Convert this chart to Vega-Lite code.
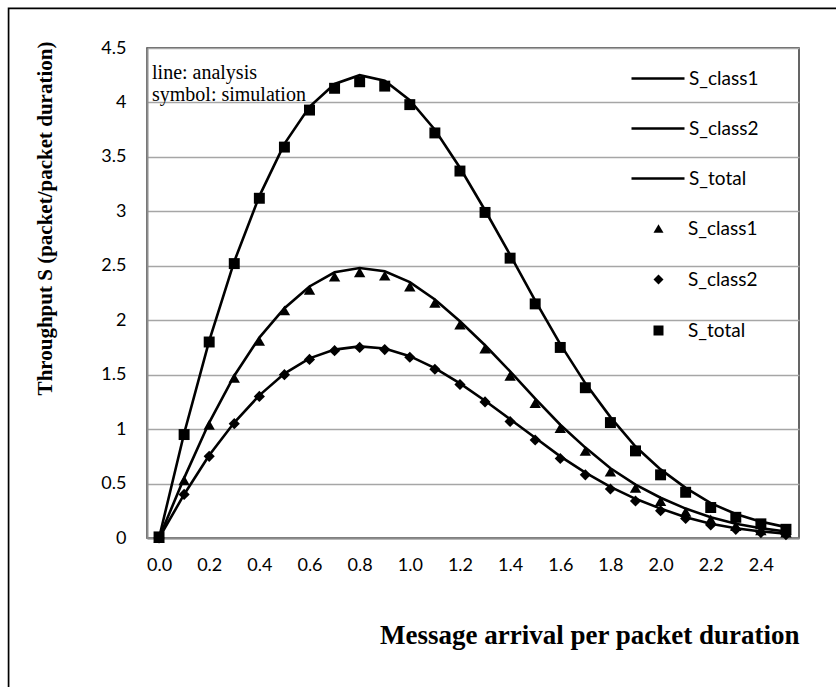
{
  "$schema": "https://vega.github.io/schema/vega-lite/v6.json",
  "width": 652,
  "height": 490,
  "autosize": {"type": "none"},
  "padding": {"left": 147, "top": 48, "right": 37, "bottom": 149},
  "background": "white",
  "config": {
    "view": {"stroke": "#333333", "strokeWidth": 1.5},
    "axis": {"labelFont": "Lato", "labelFontSize": 18, "labelColor": "black", "titleFont": "Liberation Serif", "titleFontWeight": "bold", "titleColor": "black", "labelFlush": false, "ticks": false, "tickSize": 0, "domainColor": "#8c8c8c", "domainWidth": 2}
  },
  "data": {"values": [
    {"x": 0.0, "series": "S_class1", "analysis": 0, "simulation": 0},
    {"x": 0.1, "series": "S_class1", "analysis": 0.55, "simulation": 0.53},
    {"x": 0.2, "series": "S_class1", "analysis": 1.06, "simulation": 1.04},
    {"x": 0.3, "series": "S_class1", "analysis": 1.49, "simulation": 1.47},
    {"x": 0.4, "series": "S_class1", "analysis": 1.84, "simulation": 1.81},
    {"x": 0.5, "series": "S_class1", "analysis": 2.11, "simulation": 2.09},
    {"x": 0.6, "series": "S_class1", "analysis": 2.31, "simulation": 2.28},
    {"x": 0.7, "series": "S_class1", "analysis": 2.44, "simulation": 2.40},
    {"x": 0.8, "series": "S_class1", "analysis": 2.48, "simulation": 2.44},
    {"x": 0.9, "series": "S_class1", "analysis": 2.45, "simulation": 2.41},
    {"x": 1.0, "series": "S_class1", "analysis": 2.35, "simulation": 2.31},
    {"x": 1.1, "series": "S_class1", "analysis": 2.19, "simulation": 2.16},
    {"x": 1.2, "series": "S_class1", "analysis": 1.99, "simulation": 1.96},
    {"x": 1.3, "series": "S_class1", "analysis": 1.77, "simulation": 1.74},
    {"x": 1.4, "series": "S_class1", "analysis": 1.53, "simulation": 1.49},
    {"x": 1.5, "series": "S_class1", "analysis": 1.28, "simulation": 1.24},
    {"x": 1.6, "series": "S_class1", "analysis": 1.04, "simulation": 1.01},
    {"x": 1.7, "series": "S_class1", "analysis": 0.83, "simulation": 0.80},
    {"x": 1.8, "series": "S_class1", "analysis": 0.64, "simulation": 0.61},
    {"x": 1.9, "series": "S_class1", "analysis": 0.49, "simulation": 0.46},
    {"x": 2.0, "series": "S_class1", "analysis": 0.37, "simulation": 0.34},
    {"x": 2.1, "series": "S_class1", "analysis": 0.27, "simulation": 0.24},
    {"x": 2.2, "series": "S_class1", "analysis": 0.19, "simulation": 0.17},
    {"x": 2.3, "series": "S_class1", "analysis": 0.13, "simulation": 0.11},
    {"x": 2.4, "series": "S_class1", "analysis": 0.09, "simulation": 0.07},
    {"x": 2.5, "series": "S_class1", "analysis": 0.06, "simulation": 0.05},
    {"x": 0.0, "series": "S_class2", "analysis": 0, "simulation": 0},
    {"x": 0.1, "series": "S_class2", "analysis": 0.40, "simulation": 0.40},
    {"x": 0.2, "series": "S_class2", "analysis": 0.76, "simulation": 0.75},
    {"x": 0.3, "series": "S_class2", "analysis": 1.06, "simulation": 1.05},
    {"x": 0.4, "series": "S_class2", "analysis": 1.31, "simulation": 1.30},
    {"x": 0.5, "series": "S_class2", "analysis": 1.51, "simulation": 1.50},
    {"x": 0.6, "series": "S_class2", "analysis": 1.65, "simulation": 1.64},
    {"x": 0.7, "series": "S_class2", "analysis": 1.73, "simulation": 1.72},
    {"x": 0.8, "series": "S_class2", "analysis": 1.76, "simulation": 1.75},
    {"x": 0.9, "series": "S_class2", "analysis": 1.74, "simulation": 1.73},
    {"x": 1.0, "series": "S_class2", "analysis": 1.67, "simulation": 1.66},
    {"x": 1.1, "series": "S_class2", "analysis": 1.56, "simulation": 1.55},
    {"x": 1.2, "series": "S_class2", "analysis": 1.42, "simulation": 1.41},
    {"x": 1.3, "series": "S_class2", "analysis": 1.26, "simulation": 1.25},
    {"x": 1.4, "series": "S_class2", "analysis": 1.09, "simulation": 1.07},
    {"x": 1.5, "series": "S_class2", "analysis": 0.92, "simulation": 0.90},
    {"x": 1.6, "series": "S_class2", "analysis": 0.75, "simulation": 0.73},
    {"x": 1.7, "series": "S_class2", "analysis": 0.60, "simulation": 0.58},
    {"x": 1.8, "series": "S_class2", "analysis": 0.47, "simulation": 0.45},
    {"x": 1.9, "series": "S_class2", "analysis": 0.36, "simulation": 0.34},
    {"x": 2.0, "series": "S_class2", "analysis": 0.27, "simulation": 0.25},
    {"x": 2.1, "series": "S_class2", "analysis": 0.19, "simulation": 0.18},
    {"x": 2.2, "series": "S_class2", "analysis": 0.13, "simulation": 0.12},
    {"x": 2.3, "series": "S_class2", "analysis": 0.09, "simulation": 0.08},
    {"x": 2.4, "series": "S_class2", "analysis": 0.06, "simulation": 0.05},
    {"x": 2.5, "series": "S_class2", "analysis": 0.04, "simulation": 0.03},
    {"x": 0.0, "series": "S_total", "analysis": 0, "simulation": 0.01},
    {"x": 0.1, "series": "S_total", "analysis": 0.96, "simulation": 0.95},
    {"x": 0.2, "series": "S_total", "analysis": 1.81, "simulation": 1.80},
    {"x": 0.3, "series": "S_total", "analysis": 2.54, "simulation": 2.52},
    {"x": 0.4, "series": "S_total", "analysis": 3.14, "simulation": 3.12},
    {"x": 0.5, "series": "S_total", "analysis": 3.62, "simulation": 3.59},
    {"x": 0.6, "series": "S_total", "analysis": 3.96, "simulation": 3.93},
    {"x": 0.7, "series": "S_total", "analysis": 4.17, "simulation": 4.13},
    {"x": 0.8, "series": "S_total", "analysis": 4.25, "simulation": 4.19},
    {"x": 0.9, "series": "S_total", "analysis": 4.20, "simulation": 4.15},
    {"x": 1.0, "series": "S_total", "analysis": 4.02, "simulation": 3.98},
    {"x": 1.1, "series": "S_total", "analysis": 3.75, "simulation": 3.72},
    {"x": 1.2, "series": "S_total", "analysis": 3.40, "simulation": 3.37},
    {"x": 1.3, "series": "S_total", "analysis": 3.01, "simulation": 2.99},
    {"x": 1.4, "series": "S_total", "analysis": 2.60, "simulation": 2.57},
    {"x": 1.5, "series": "S_total", "analysis": 2.18, "simulation": 2.15},
    {"x": 1.6, "series": "S_total", "analysis": 1.78, "simulation": 1.75},
    {"x": 1.7, "series": "S_total", "analysis": 1.42, "simulation": 1.38},
    {"x": 1.8, "series": "S_total", "analysis": 1.11, "simulation": 1.06},
    {"x": 1.9, "series": "S_total", "analysis": 0.84, "simulation": 0.80},
    {"x": 2.0, "series": "S_total", "analysis": 0.63, "simulation": 0.58},
    {"x": 2.1, "series": "S_total", "analysis": 0.46, "simulation": 0.42},
    {"x": 2.2, "series": "S_total", "analysis": 0.32, "simulation": 0.28},
    {"x": 2.3, "series": "S_total", "analysis": 0.22, "simulation": 0.19},
    {"x": 2.4, "series": "S_total", "analysis": 0.15, "simulation": 0.13},
    {"x": 2.5, "series": "S_total", "analysis": 0.10, "simulation": 0.08}
  ]},
  "layer": [
    {
      "data": {"values": [{}]},
      "mark": {"type": "rect", "filled": false, "stroke": "black", "strokeWidth": 1.7},
      "encoding": {
        "x": {"datum": -0.6, "type": "quantitative", "scale": {"domain": [-0.048, 2.552], "nice": false, "zero": false}},
        "x2": {"datum": 2.85},
        "y": {"datum": 4.863, "type": "quantitative", "scale": {"domain": [0, 4.5], "nice": false, "zero": false}},
        "y2": {"datum": -1.45}
      }
    },
    {
      "mark": {"type": "line", "strokeWidth": 2.6},
      "encoding": {
        "x": {"field": "x", "type": "quantitative", "scale": {"domain": [-0.048, 2.552], "nice": false, "zero": false},
          "axis": {"title": "Message arrival per packet duration", "values": [0, 0.2, 0.4, 0.6, 0.8, 1.0, 1.2, 1.4, 1.6, 1.8, 2.0, 2.2, 2.4], "format": ".1f", "grid": false, "labelPadding": 18, "titleFontSize": 27, "titleX": 652, "titleY": 105, "titleAlign": "right", "titleBaseline": "alphabetic"}},
        "y": {"field": "analysis", "type": "quantitative", "scale": {"domain": [0, 4.5], "nice": false, "zero": false},
          "axis": {"title": "Throughput S (packet/packet duration)", "values": [0, 0.5, 1, 1.5, 2, 2.5, 3, 3.5, 4, 4.5], "format": ".1~f", "grid": true, "gridColor": "#a6a6a6", "gridWidth": 1.5, "labelPadding": 21, "titleFontSize": 21, "titleX": -102, "titleY": 170, "titleAngle": 270, "titleBaseline": "middle", "titleAlign": "center"}},
        "color": {"field": "series", "type": "nominal", "scale": {"domain": ["S_class1", "S_class2", "S_total"], "range": ["black", "black", "black"]},
          "legend": {"orient": "none", "legendX": 499.5, "legendY": 19, "title": null, "symbolType": "M-2.65,0H2.65", "symbolSize": 400, "symbolStrokeWidth": 2.6, "labelFont": "Lato", "labelFontSize": 19, "labelColor": "black", "labelOffset": 19.5, "rowPadding": 28, "padding": 0}},
        "detail": {"field": "series"}
      }
    },
    {
      "mark": {"type": "point", "filled": true, "color": "black", "opacity": 1},
      "encoding": {
        "x": {"field": "x", "type": "quantitative", "scale": {"domain": [-0.048, 2.552], "nice": false, "zero": false}},
        "y": {"field": "simulation", "type": "quantitative", "scale": {"domain": [0, 4.5], "nice": false, "zero": false}},
        "shape": {"field": "series", "type": "nominal", "scale": {"domain": ["S_class1", "S_class2", "S_total"], "range": ["triangle-up", "diamond", "square"]},
          "legend": {"orient": "none", "legendX": 502, "legendY": 171, "title": null, "symbolSize": 100, "symbolFillColor": "black", "symbolStrokeColor": "black", "symbolStrokeWidth": 0, "labelFont": "Lato", "labelFontSize": 19, "labelColor": "black", "labelOffset": 20, "rowPadding": 31, "padding": 0}},
        "size": {"field": "series", "type": "nominal", "scale": {"domain": ["S_class1", "S_class2", "S_total"], "range": [130, 120, 170]}, "legend": null}
      }
    },
    {
      "data": {"values": [{}]},
      "mark": {"type": "text", "text": ["line: analysis", "symbol: simulation"], "font": "Liberation Serif", "fontSize": 20, "lineHeight": 22, "align": "left", "baseline": "alphabetic", "color": "black"},
      "encoding": {
        "x": {"datum": -0.028, "type": "quantitative"},
        "y": {"datum": 4.215, "type": "quantitative"}
      }
    }
  ],
  "resolve": {"legend": {"color": "independent", "shape": "independent"}}
}
